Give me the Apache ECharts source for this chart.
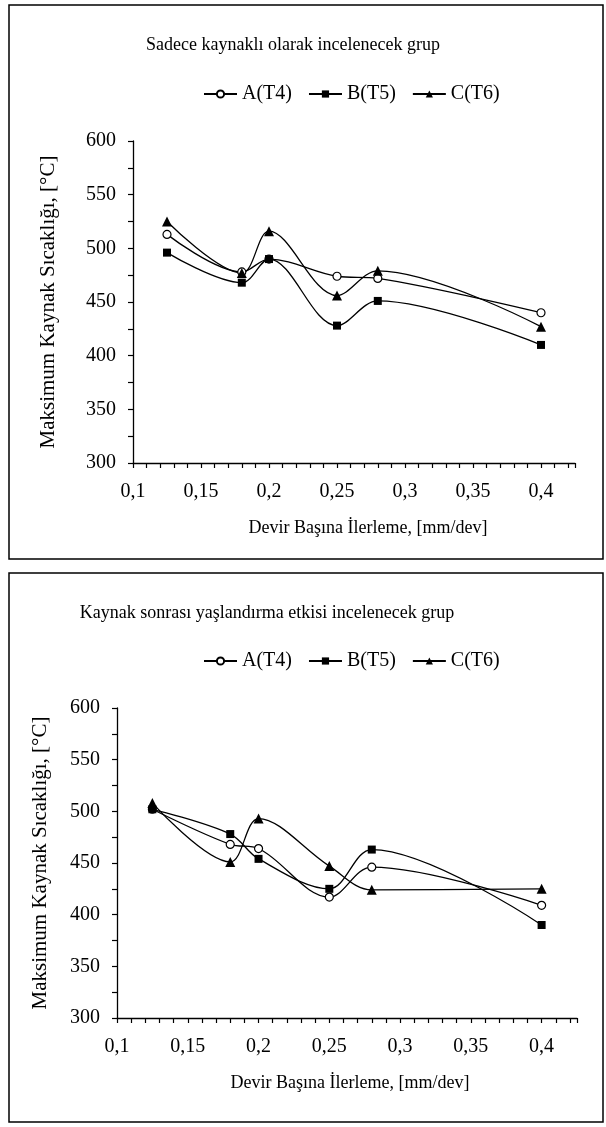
<!DOCTYPE html>
<html>
<head>
<meta charset="utf-8">
<script src="https://cdn.jsdelivr.net/npm/echarts@6/dist/echarts.min.js"></script>
<style>
  html, body { margin: 0; padding: 0; background: #fff; }
  #chart { width: 606px; height: 1127px; }
</style>
</head>
<body>
<div id="chart"></div>
<script>
// ilerleme degerleri (mm/dev)
let feeds = [0.125, 0.18, 0.2, 0.25, 0.28, 0.4];
let seriesNames = ['A(T4)', 'B(T5)', 'C(T6)'];

// ust grafik: sadece kaynakli
let topA = [513, 478, 490, 474, 472, 440];
let topB = [496, 468, 490, 428, 451, 410];
let topC = [525, 477, 516, 456, 479, 427];

// alt grafik: yaslandirma etkisi
let botA = [502, 468, 464, 417, 446, 409];
let botB = [502, 478, 454, 425, 463, 390];
let botC = [508, 451, 493, 447, 424, 425];

let titles = ['Sadece kaynaklı olarak incelenecek grup', 'Kaynak sonrası yaşlandırma etkisi incelenecek grup'];
let xName = 'Devir Başına İlerleme, [mm/dev]';
let yName = 'Maksimum Kaynak Sıcaklığı, [°C]';

let font = '"Liberation Serif", "Times New Roman", serif';
let black = '#000';

function pairs(vals) {
	return feeds.map((x, i) => [x, vals[i]]);
}

function xAxis(gridIndex, gap, shift) {
	return {
		type: 'value', gridIndex: gridIndex,
		min: 0.1, max: 0.425, interval: 0.01,
		name: xName, nameLocation: 'middle', nameGap: gap,
		nameTextStyle: { color: black, fontFamily: font, fontSize: 18, padding: [0, 0, 0, shift] },
		axisLine: { lineStyle: { color: black, width: 1.3 } },
		axisTick: { length: 5, lineStyle: { color: black, width: 1.2 } },
		axisLabel: {
			color: black, fontFamily: font, fontSize: 20, margin: 19,
			formatter: function (v) {
				if (Math.abs(v * 20 - Math.round(v * 20)) > 1e-6) return '';
				return String(+v.toFixed(2)).replace('.', ',');
			}
		},
		splitLine: { show: false }
	};
}

function yAxis(gridIndex, gap) {
	return {
		type: 'value', gridIndex: gridIndex,
		min: 300, max: 600, interval: 50,
		name: yName, nameLocation: 'middle', nameGap: gap, nameRotate: 90,
		nameTextStyle: { color: black, fontFamily: font, fontSize: 21 },
		axisLine: { show: true, lineStyle: { color: black, width: 1.3 } },
		axisTick: { show: true, length: 5, lineStyle: { color: black, width: 1.2 } },
		minorTick: { show: true, splitNumber: 2, length: 5, lineStyle: { color: black, width: 1.2 } },
		axisLabel: { color: black, fontFamily: font, fontSize: 20, margin: 17 },
		splitLine: { show: false }
	};
}

function lineSeries(name, idx, vals, symbol, size, fill) {
	return {
		name: name, type: 'line', xAxisIndex: idx, yAxisIndex: idx,
		data: pairs(vals), smooth: 0.35,
		symbol: symbol, symbolSize: size, showAllSymbol: true,
		lineStyle: { color: black, width: 1.3 },
		itemStyle: { color: fill, borderColor: black, borderWidth: symbol == 'circle' ? 1.2 : 0 },
		emphasis: { disabled: true },
		z: 3
	};
}

function legend(top) {
	return {
		top: top, left: 203, padding: 0, itemGap: 16, itemWidth: 33, itemHeight: 9,
		data: seriesNames,
		textStyle: { color: black, fontFamily: font, fontSize: 20 }
	};
}

let chart = echarts.init(document.getElementById('chart'));
let option = {
	backgroundColor: '#fff',
	animation: false,
	title: [
		{ text: titles[0], left: 288, top: 31, textAlign: 'center',
			textStyle: { color: black, fontFamily: font, fontSize: 18, fontWeight: 'normal' } },
		{ text: titles[1], left: 262, top: 599, textAlign: 'center',
			textStyle: { color: black, fontFamily: font, fontSize: 18, fontWeight: 'normal' } }
	],
	legend: [legend(84), legend(651)],
	grid: [
		{ left: 133, top: 141, width: 442, height: 322 },
		{ left: 117, top: 708, width: 460, height: 310 }
	],
	xAxis: [xAxis(0, 56, 28), xAxis(1, 56, 6)],
	yAxis: [yAxis(0, 74), yAxis(1, 66)],
	series: [
		lineSeries(seriesNames[0], 0, topA, 'circle', 8, '#fff'),
		lineSeries(seriesNames[1], 0, topB, 'rect', 8, black),
		lineSeries(seriesNames[2], 0, topC, 'triangle', 10, black),
		lineSeries(seriesNames[0], 1, botA, 'circle', 8, '#fff'),
		lineSeries(seriesNames[1], 1, botB, 'rect', 8, black),
		lineSeries(seriesNames[2], 1, botC, 'triangle', 10, black)
	],
	// cerceveler
	graphic: [
		{ type: 'rect', shape: { x: 9, y: 5, width: 594, height: 554 },
			style: { fill: 'none', stroke: black, lineWidth: 1.5 } },
		{ type: 'rect', shape: { x: 9, y: 573, width: 594, height: 549 },
			style: { fill: 'none', stroke: black, lineWidth: 1.5 } }
	]
};
chart.setOption(option);
</script>
</body>
</html>
